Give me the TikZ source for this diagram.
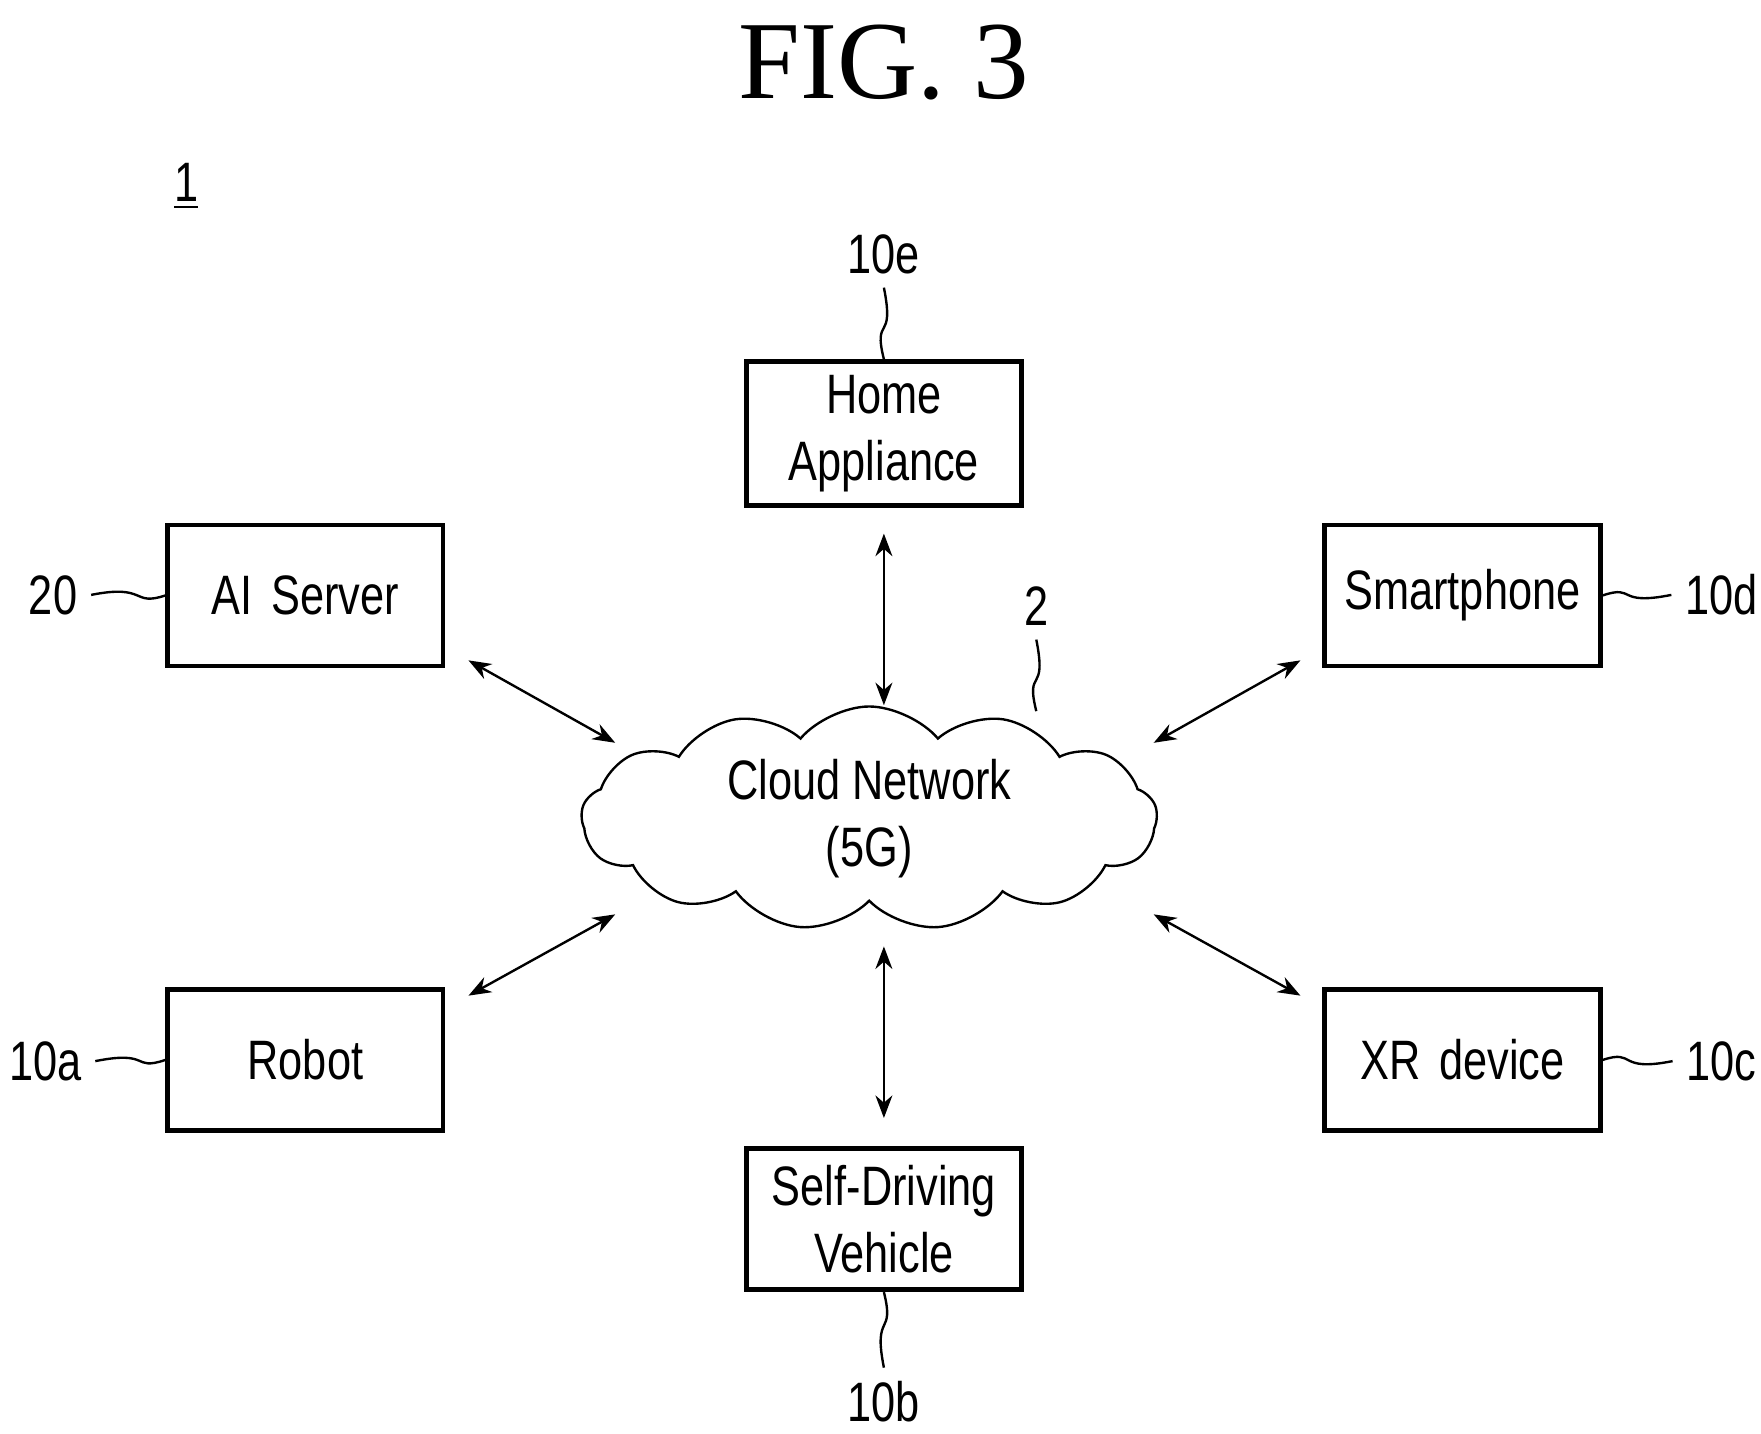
\documentclass[tikz,border=0pt]{standalone}
\usepackage{fontspec}
\setmainfont{Liberation Sans}[FakeStretch=0.78]
\newfontfamily\figfont{Liberation Serif}
\usetikzlibrary{arrows.meta,positioning,shapes.symbols}

\begin{document}
\begin{tikzpicture}[
  box/.style={draw, line width=1.2pt, text width=2.2cm, minimum height=1.25cm,
              inner xsep=0.12cm, align=center, font=\fontsize{14}{17}\selectfont},
  lbl/.style={font=\fontsize{14}{17}\selectfont},
  arr/.style={{Stealth[length=2mm]}-{Stealth[length=2mm]}, semithick},
  lead/.style={semithick}
]
\useasboundingbox (0,0) rectangle (15.6,12.7);

\node[font=\figfont\fontsize{28}{28}\selectfont] (title) at (7.83,12.15) {FIG. 3};
\node[lbl] (sys) at (1.65,11.05) {\underline{1}};

% devices
\node[box] (home) at (7.83,8.86) {Home\\Appliance};
\node[box] (ai) at (2.705,7.425) {AI Server};
\node[box] (phone) at (12.955,7.425) {Smartphone};
\node[box] (robot) at (2.705,3.31) {Robot};
\node[box] (xr) at (12.955,3.31) {XR device};
\node[box] (car) at (7.83,1.90) {Self-Driving\\Vehicle};

% network
\node[draw, semithick, cloud, cloud puffs=13, cloud puff arc=100, aspect=3.2, minimum width=5.1cm,
      minimum height=1.9cm, inner sep=0pt, align=center, font=\fontsize{14}{17}\selectfont]
      (cloud) at (7.7,5.45) {Cloud Network\\(5G)};

% reference labels
\node[lbl] (l10e) at (7.83,10.45) {10e};
\node[lbl] (l20) at (0.47,7.43) {20};
\node[lbl] (l10d) at (15.25,7.43) {10d};
\node[lbl] (l10a) at (0.40,3.30) {10a};
\node[lbl] (l10c) at (15.25,3.30) {10c};
\node[lbl] (l10b) at (7.83,0.28) {10b};
\node[lbl] (l2) at (9.18,7.33) {2};
\coordinate (ctop) at (9.18,6.40);

% connectors
\draw[arr] ([yshift=-0.23cm]home.south) -- ([yshift=-1.75cm]home.south);
\draw[arr] ([yshift=0.25cm]car.north) -- ([yshift=1.77cm]car.north);
\draw[arr] (4.15,6.85) -- (5.45,6.12);
\draw[arr] (11.52,6.85) -- (10.22,6.12);
\draw[arr] (4.15,3.88) -- (5.45,4.60);
\draw[arr] (11.52,3.88) -- (10.22,4.60);

% leaders
\draw[lead] (l10e.south) .. controls +(0.1,-0.5) and +(-0.1,0.4) .. (home.north);
\draw[lead] (l20.east) .. controls +(0.5,0.1) and +(-0.3,-0.1) .. (ai.west);
\draw[lead] (l10d.west) .. controls +(-0.5,-0.1) and +(0.3,0.1) .. (phone.east);
\draw[lead] (l10a.east) .. controls +(0.5,0.1) and +(-0.3,-0.1) .. (robot.west);
\draw[lead] (l10c.west) .. controls +(-0.5,-0.1) and +(0.3,0.1) .. (xr.east);
\draw[lead] (l10b.north) .. controls +(-0.1,0.5) and +(0.1,-0.4) .. (car.south);
\draw[lead] (l2.south) .. controls +(0.1,-0.5) and +(-0.1,0.4) .. (ctop);
\end{tikzpicture}
\end{document}
